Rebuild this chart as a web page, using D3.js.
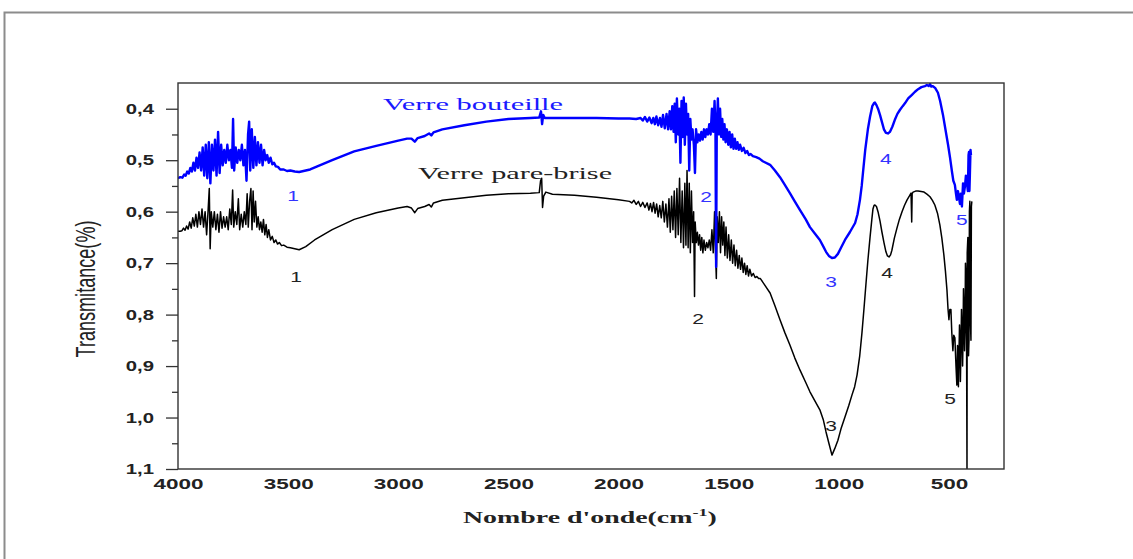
<!DOCTYPE html>
<html>
<head>
<meta charset="utf-8">
<script src="https://cdn.jsdelivr.net/npm/d3@7"></script>
<style>
  body { margin: 0; background: #fff; }
  svg { display: block; }
</style>
</head>
<body>
<div id="svg"></div>
<script>
/* Data: [wavenumber (cm-1), transmittance]. */
const bouteille = [
  [4000,0.535],[3990,0.533],[3980,0.534],[3972,0.528],[3965,0.530],[3958,0.522],[3951,0.526],[3944,0.515],[3937,0.522],[3930,0.505],
  [3923,0.52],[3916,0.495],[3909,0.515],[3902,0.485],[3895,0.52],[3888,0.475],[3881,0.53],[3874,0.47],[3867,0.535],[3860,0.465],
  [3853,0.545],[3846,0.47],[3839,0.52],[3832,0.46],[3825,0.53],[3818,0.445],[3811,0.525],[3804,0.47],[3797,0.51],[3790,0.48],
  [3783,0.505],[3776,0.47],[3769,0.50],[3762,0.48],[3755,0.515],[3750,0.42],[3745,0.52],[3738,0.475],[3731,0.505],[3724,0.48],
  [3717,0.50],[3710,0.47],[3703,0.51],[3696,0.48],[3689,0.54],[3682,0.45],[3677,0.425],[3672,0.52],[3665,0.44],[3658,0.515],
  [3651,0.455],[3644,0.51],[3637,0.465],[3630,0.505],[3623,0.47],[3616,0.51],[3609,0.48],[3602,0.50],[3595,0.49],[3588,0.505],
  [3580,0.495],[3572,0.508],[3564,0.505],[3556,0.512],[3546,0.513],[3536,0.518],[3520,0.518],[3505,0.521],[3490,0.52],[3470,0.522],
  [3450,0.523],[3400,0.518],[3300,0.500],[3200,0.483],[3100,0.472],[3000,0.462],[2960,0.458],[2940,0.458],[2925,0.464],[2912,0.457],
  [2880,0.453],[2860,0.448],[2850,0.452],[2840,0.446],[2800,0.44],[2700,0.432],[2600,0.425],[2500,0.42],[2400,0.418],[2360,0.417],
  [2352,0.405],[2347,0.43],[2342,0.412],[2335,0.418],[2300,0.418],[2200,0.418],[2100,0.418],[2000,0.419],[1950,0.419],[1920,0.42],
  [1900,0.418],[1890,0.423],[1880,0.416],[1870,0.425],[1860,0.417],[1850,0.428],[1842,0.418],[1835,0.43],[1828,0.415],[1820,0.432],
  [1812,0.418],[1805,0.435],[1798,0.412],[1790,0.438],[1782,0.41],[1775,0.44],[1768,0.405],[1762,0.44],[1756,0.395],[1750,0.445],
  [1745,0.39],[1740,0.465],[1735,0.38],[1729,0.45],[1724,0.40],[1719,0.505],[1714,0.385],[1709,0.455],[1704,0.378],[1699,0.47],
  [1694,0.39],[1689,0.45],[1684,0.41],[1679,0.52],[1674,0.42],[1669,0.46],[1664,0.44],[1658,0.47],[1653,0.525],[1648,0.44],
  [1642,0.465],[1636,0.45],[1630,0.462],[1624,0.445],[1618,0.46],[1612,0.44],[1606,0.455],[1600,0.44],[1594,0.45],[1588,0.43],
  [1582,0.45],[1576,0.40],[1570,0.445],[1564,0.385],[1560,0.44],[1557,0.707],[1554,0.44],[1549,0.38],[1544,0.45],[1539,0.40],
  [1534,0.455],[1529,0.42],[1524,0.46],[1519,0.43],[1514,0.465],[1508,0.44],[1502,0.47],[1496,0.445],[1490,0.475],[1484,0.45],
  [1478,0.478],[1472,0.458],[1466,0.478],[1460,0.465],[1454,0.48],[1448,0.47],[1440,0.482],[1432,0.476],[1424,0.486],[1416,0.482],
  [1408,0.49],[1400,0.488],[1390,0.492],[1375,0.494],[1360,0.497],[1345,0.502],[1312,0.509],[1290,0.52],[1267,0.533],[1245,0.548],
  [1222,0.564],[1200,0.58],[1176,0.597],[1150,0.615],[1131,0.63],[1108,0.643],[1086,0.655],[1070,0.668],[1058,0.678],[1045,0.686],
  [1031,0.69],[1018,0.689],[1004,0.682],[990,0.67],[972,0.655],[950,0.64],[926,0.622],[915,0.605],[904,0.577],[896,0.55],
  [889,0.519],[880,0.48],[868,0.44],[858,0.415],[848,0.395],[840,0.389],[836,0.388],[829,0.393],[822,0.4],[813,0.412],
  [804,0.426],[795,0.44],[786,0.447],[777,0.448],[768,0.445],[757,0.435],[746,0.422],[734,0.41],[722,0.402],[710,0.395],
  [699,0.389],[685,0.38],[668,0.373],[654,0.367],[640,0.362],[625,0.358],[609,0.356],[600,0.354],[592,0.356],[586,0.352],
  [580,0.357],[573,0.356],[562,0.36],[550,0.369],[540,0.385],[527,0.412],[516,0.44],[504,0.47],[495,0.495],[486,0.523],
  [480,0.54],[473,0.548],[468,0.565],[464,0.577],[459,0.56],[455,0.57],[450,0.585],[446,0.565],[441,0.59],[436,0.545],
  [432,0.565],[427,0.55],[423,0.53],[418,0.545],[414,0.56],[411,0.49],[409,0.484],[407,0.56],[405,0.53],[402,0.48],[400,0.49]
]

const pareBrise = [
  [4000,0.638],[3990,0.638],[3982,0.637],[3975,0.632],[3968,0.636],[3961,0.628],[3954,0.634],[3947,0.62],[3940,0.632],[3933,0.612],
  [3926,0.628],[3919,0.605],[3912,0.63],[3905,0.60],[3898,0.625],[3891,0.595],[3884,0.63],[3877,0.60],[3870,0.645],[3863,0.595],
  [3858,0.555],[3854,0.672],[3849,0.60],[3842,0.63],[3835,0.60],[3828,0.635],[3821,0.605],[3814,0.64],[3807,0.60],[3800,0.632],
  [3793,0.61],[3786,0.63],[3779,0.61],[3772,0.635],[3765,0.595],[3758,0.625],[3752,0.558],[3747,0.63],[3740,0.60],[3733,0.625],
  [3726,0.575],[3720,0.635],[3713,0.605],[3706,0.63],[3699,0.60],[3692,0.625],[3686,0.565],[3681,0.63],[3675,0.58],[3669,0.555],
  [3664,0.635],[3659,0.56],[3654,0.62],[3648,0.58],[3642,0.63],[3636,0.61],[3630,0.635],[3624,0.62],[3618,0.64],[3612,0.615],
  [3606,0.645],[3600,0.625],[3594,0.65],[3588,0.635],[3580,0.655],[3572,0.648],[3564,0.66],[3556,0.655],[3548,0.663],[3540,0.66],
  [3530,0.666],[3520,0.665],[3505,0.669],[3490,0.67],[3470,0.672],[3450,0.674],[3420,0.668],[3380,0.655],[3300,0.635],[3200,0.615],
  [3100,0.602],[3000,0.593],[2960,0.59],[2940,0.593],[2925,0.602],[2912,0.594],[2880,0.59],[2860,0.586],[2850,0.591],[2840,0.583],
  [2800,0.578],[2700,0.573],[2600,0.568],[2500,0.565],[2400,0.564],[2360,0.563],[2354,0.54],[2349,0.535],[2345,0.592],[2340,0.57],
  [2330,0.562],[2300,0.566],[2200,0.568],[2100,0.572],[2000,0.577],[1950,0.58],[1940,0.583],[1930,0.578],[1920,0.586],[1910,0.58],
  [1900,0.59],[1890,0.582],[1880,0.592],[1870,0.583],[1862,0.597],[1855,0.584],[1848,0.6],[1841,0.582],[1834,0.603],[1827,0.585],
  [1820,0.61],[1813,0.588],[1806,0.612],[1799,0.58],[1792,0.62],[1785,0.585],[1778,0.63],[1771,0.575],[1765,0.64],[1759,0.57],
  [1753,0.635],[1747,0.56],[1741,0.65],[1735,0.555],[1729,0.645],[1723,0.535],[1717,0.66],[1711,0.56],[1705,0.67],[1699,0.545],
  [1694,0.665],[1689,0.52],[1684,0.67],[1679,0.545],[1674,0.68],[1669,0.56],[1664,0.66],[1659,0.6],[1655,0.765],[1652,0.62],
  [1647,0.66],[1642,0.64],[1637,0.665],[1632,0.645],[1627,0.675],[1622,0.65],[1617,0.68],[1612,0.655],[1606,0.675],[1600,0.66],
  [1594,0.67],[1588,0.655],[1582,0.675],[1576,0.635],[1570,0.68],[1564,0.6],[1559,0.69],[1556,0.73],[1552,0.61],[1547,0.66],
  [1542,0.6],[1537,0.68],[1532,0.61],[1527,0.665],[1522,0.62],[1517,0.685],[1512,0.63],[1506,0.69],[1500,0.645],[1494,0.695],
  [1488,0.655],[1482,0.7],[1476,0.665],[1470,0.705],[1464,0.675],[1458,0.71],[1452,0.685],[1446,0.712],[1440,0.69],[1434,0.718],
  [1428,0.7],[1422,0.722],[1416,0.705],[1410,0.725],[1404,0.712],[1396,0.725],[1388,0.72],[1380,0.728],[1372,0.726],[1364,0.73],
  [1356,0.73],[1312,0.758],[1290,0.783],[1267,0.81],[1245,0.835],[1222,0.859],[1200,0.884],[1176,0.908],[1150,0.932],[1131,0.95],
  [1108,0.968],[1086,0.985],[1070,1.005],[1058,1.028],[1045,1.05],[1031,1.073],[1018,1.06],[1004,1.044],[990,1.022],[972,0.999],
  [955,0.977],[940,0.956],[928,0.94],[917,0.917],[905,0.88],[895,0.836],[886,0.79],[877,0.742],[868,0.695],[858,0.649],
  [850,0.615],[845,0.595],[840,0.588],[836,0.587],[829,0.59],[822,0.6],[813,0.618],[804,0.64],[795,0.66],[786,0.678],
  [779,0.686],[772,0.688],[765,0.684],[759,0.675],[748,0.652],[736,0.632],[725,0.615],[713,0.6],[702,0.588],[690,0.577],
  [680,0.57],[672,0.564],[669,0.62],[667,0.565],[663,0.562],[651,0.56],[640,0.56],[626,0.561],[613,0.562],[600,0.566],
  [586,0.571],[575,0.578],[564,0.587],[552,0.603],[541,0.626],[532,0.652],[523,0.684],[516,0.715],[509,0.752],[504,0.79],
  [500,0.81],[496,0.79],[491,0.79],[487,0.835],[482,0.87],[478,0.84],[473,0.845],[468,0.9],[464,0.937],[461,0.86],
  [459,0.87],[457,0.94],[455,0.89],[452,0.82],[450,0.85],[448,0.93],[446,0.88],[443,0.79],[441,0.82],[438,0.9],
  [436,0.85],[434,0.75],[432,0.78],[429,0.87],[427,0.83],[425,0.7],[423,0.72],[420,0.85],[418,1.1],[417,0.68],
  [414,0.65],[411,0.88],[409,0.85],[407,0.6],[405,0.58],[402,0.82],[400,0.85],[398,0.59],[396,0.58]
]

/* Tick values and labels. */
const xTicks = [4000, 3500, 3000, 2500, 2000, 1500, 1000, 500]
const yTicks = [0.4, 0.5, 0.6, 0.7, 0.8, 0.9, 1.0, 1.1]
const yMinorTicks = [0.45, 0.55, 0.65, 0.75, 0.85, 0.95, 1.05]

/* Band numbers: [label, wavenumber, transmittance] anchors. */
const picsBouteille = [["1", 3478, 0.579], ["2", 1603, 0.581], ["3", 1035, 0.746], ["4", 786, 0.507], ["5", 441, 0.626]]
const picsPareBrise = [["1", 3464, 0.737], ["2", 1639, 0.818], ["3", 1035, 1.026], ["4", 781, 0.729], ["5", 495, 0.974]]

/* Series names and their anchors. */
const seriesNames = ["Verre bouteille", "Verre pare-brise"]
const seriesAnchors = [[3069, 0.402], [2910, 0.537]]

/* Define svg-size. */
const width = 1133
const height = 559
const box = { left: 178, top: 83, right: 1004, bottom: 469 }

/* Create svg-element. */
const svg = d3.select("#svg")
  .append("svg")
  .attr("width", width)
  .attr("height", height)

/* Outer frame of the figure. */
svg.append("rect")
  .attr("x", 4.5)
  .attr("y", 12.5)
  .attr("width", 1300)
  .attr("height", 700)
  .attr("fill", "none")
  .attr("stroke", "#8c8c8c")
  .attr("stroke-width", 2)

/* Define scales. */
const x = d3.scaleLinear().domain([4000, 250]).range([box.left, box.right])
const y = d3.scaleLinear().domain([0.35, 1.1]).range([box.top, box.bottom])

/* Clip path for the curves. */
svg.append("clipPath")
  .attr("id", "clip")
  .append("rect")
  .attr("x", box.left)
  .attr("y", box.top)
  .attr("width", box.right - box.left)
  .attr("height", box.bottom - box.top)

/* Define line. */
const line = d3.line()
  .x(d => x(d[0]))
  .y(d => y(d[1]))

const g = svg.append("g").attr("clip-path", "url(#clip)")

g.append("path")
  .datum(pareBrise)
  .attr("d", line)
  .attr("fill", "none")
  .attr("stroke", "#000")
  .attr("stroke-width", 1.5)
  .attr("stroke-linejoin", "round")

g.append("path")
  .datum(bouteille)
  .attr("d", line)
  .attr("fill", "none")
  .attr("stroke", "#0000ff")
  .attr("stroke-width", 2.4)
  .attr("stroke-linejoin", "round")

/* Y axis, major and minor ticks. */
const ySx = 1.45
const yAxis = svg.append("g")
  .attr("transform", `translate(${box.left},0)`)
  .call(d3.axisLeft(y).tickValues(yTicks).tickSize(12).tickPadding(12)
    .tickFormat(d => d3.format(".1f")(d).replace(".", ",")))
yAxis.select(".domain").remove()
yAxis.selectAll("line").attr("stroke", "#333").attr("stroke-width", 1.3)
yAxis.selectAll("text")
  .attr("font-family", "'Liberation Sans', Arial, sans-serif")
  .attr("font-size", 14)
  .attr("font-weight", "bold")
  .attr("fill", "#222")
  .attr("x", -24 / ySx)
  .attr("transform", `scale(${ySx},1)`)

const yMinor = svg.append("g")
  .attr("transform", `translate(${box.left},0)`)
  .call(d3.axisLeft(y).tickValues(yMinorTicks).tickSize(6).tickFormat(""))
yMinor.select(".domain").remove()
yMinor.selectAll("line").attr("stroke", "#333").attr("stroke-width", 1.3)

/* X axis, labels only. */
const xAxis = svg.append("g")
  .attr("transform", `translate(0,${box.bottom})`)
  .call(d3.axisBottom(x).tickValues(xTicks).tickSize(0).tickPadding(9).tickFormat(d3.format("d")))
xAxis.select(".domain").remove()
xAxis.selectAll("text")
  .attr("font-family", "'Liberation Sans', Arial, sans-serif")
  .attr("font-size", 15)
  .attr("font-weight", "bold")
  .attr("fill", "#222")
  .attr("transform", "scale(1.5,1)")
  .attr("x", 0)

/* Plot box. */
svg.append("rect")
  .attr("x", box.left)
  .attr("y", box.top)
  .attr("width", box.right - box.left)
  .attr("height", box.bottom - box.top)
  .attr("fill", "none")
  .attr("stroke", "#333")
  .attr("stroke-width", 1.4)

/* Band numbers. */
const addPics = (pics, color) => {
  svg.append("g")
    .selectAll("text")
    .data(pics)
    .enter()
    .append("text")
    .attr("transform", d => `translate(${x(d[1])},${y(d[2])}) scale(1.5,1)`)
    .attr("text-anchor", "middle")
    .attr("font-family", "'Liberation Sans', Arial, sans-serif")
    .attr("font-size", 14)
    .attr("fill", color)
    .text(d => d[0])
}
addPics(picsBouteille, "#3333ff")
addPics(picsPareBrise, "#222")

/* Series names. */
svg.append("g")
  .selectAll("text")
  .data(seriesNames)
  .enter()
  .append("text")
  .attr("x", (d, i) => x(seriesAnchors[i][0]))
  .attr("y", (d, i) => y(seriesAnchors[i][1]))
  .attr("font-family", "'Liberation Serif', 'Times New Roman', serif")
  .attr("font-size", 17)
  .attr("textLength", (d, i) => i == 0 ? 180 : 194)
  .attr("lengthAdjust", "spacingAndGlyphs")
  .attr("fill", (d, i) => i == 0 ? "#1a1aff" : "#222")
  .text(d => d)

/* Axis titles. */
const xTitle = svg.append("text")
  .attr("transform", "translate(463,523) scale(1.64,1)")
  .attr("font-family", "'Liberation Serif', 'Times New Roman', serif")
  .attr("font-size", 17)
  .attr("font-weight", "bold")
  .attr("fill", "#222")
xTitle.append("tspan").text("Nombre d'onde(cm")
xTitle.append("tspan").attr("dy", -7).attr("font-size", 11).text("-1")
xTitle.append("tspan").attr("dy", 7).text(")")

svg.append("text")
  .attr("transform", "translate(95,289) scale(1.5,1) rotate(-90)")
  .attr("text-anchor", "middle")
  .attr("font-family", "'Liberation Sans', Arial, sans-serif")
  .attr("font-size", 18)
  .attr("textLength", 137)
  .attr("lengthAdjust", "spacingAndGlyphs")
  .attr("fill", "#222")
  .text("Transmitance(%)")
</script>
</body>
</html>
